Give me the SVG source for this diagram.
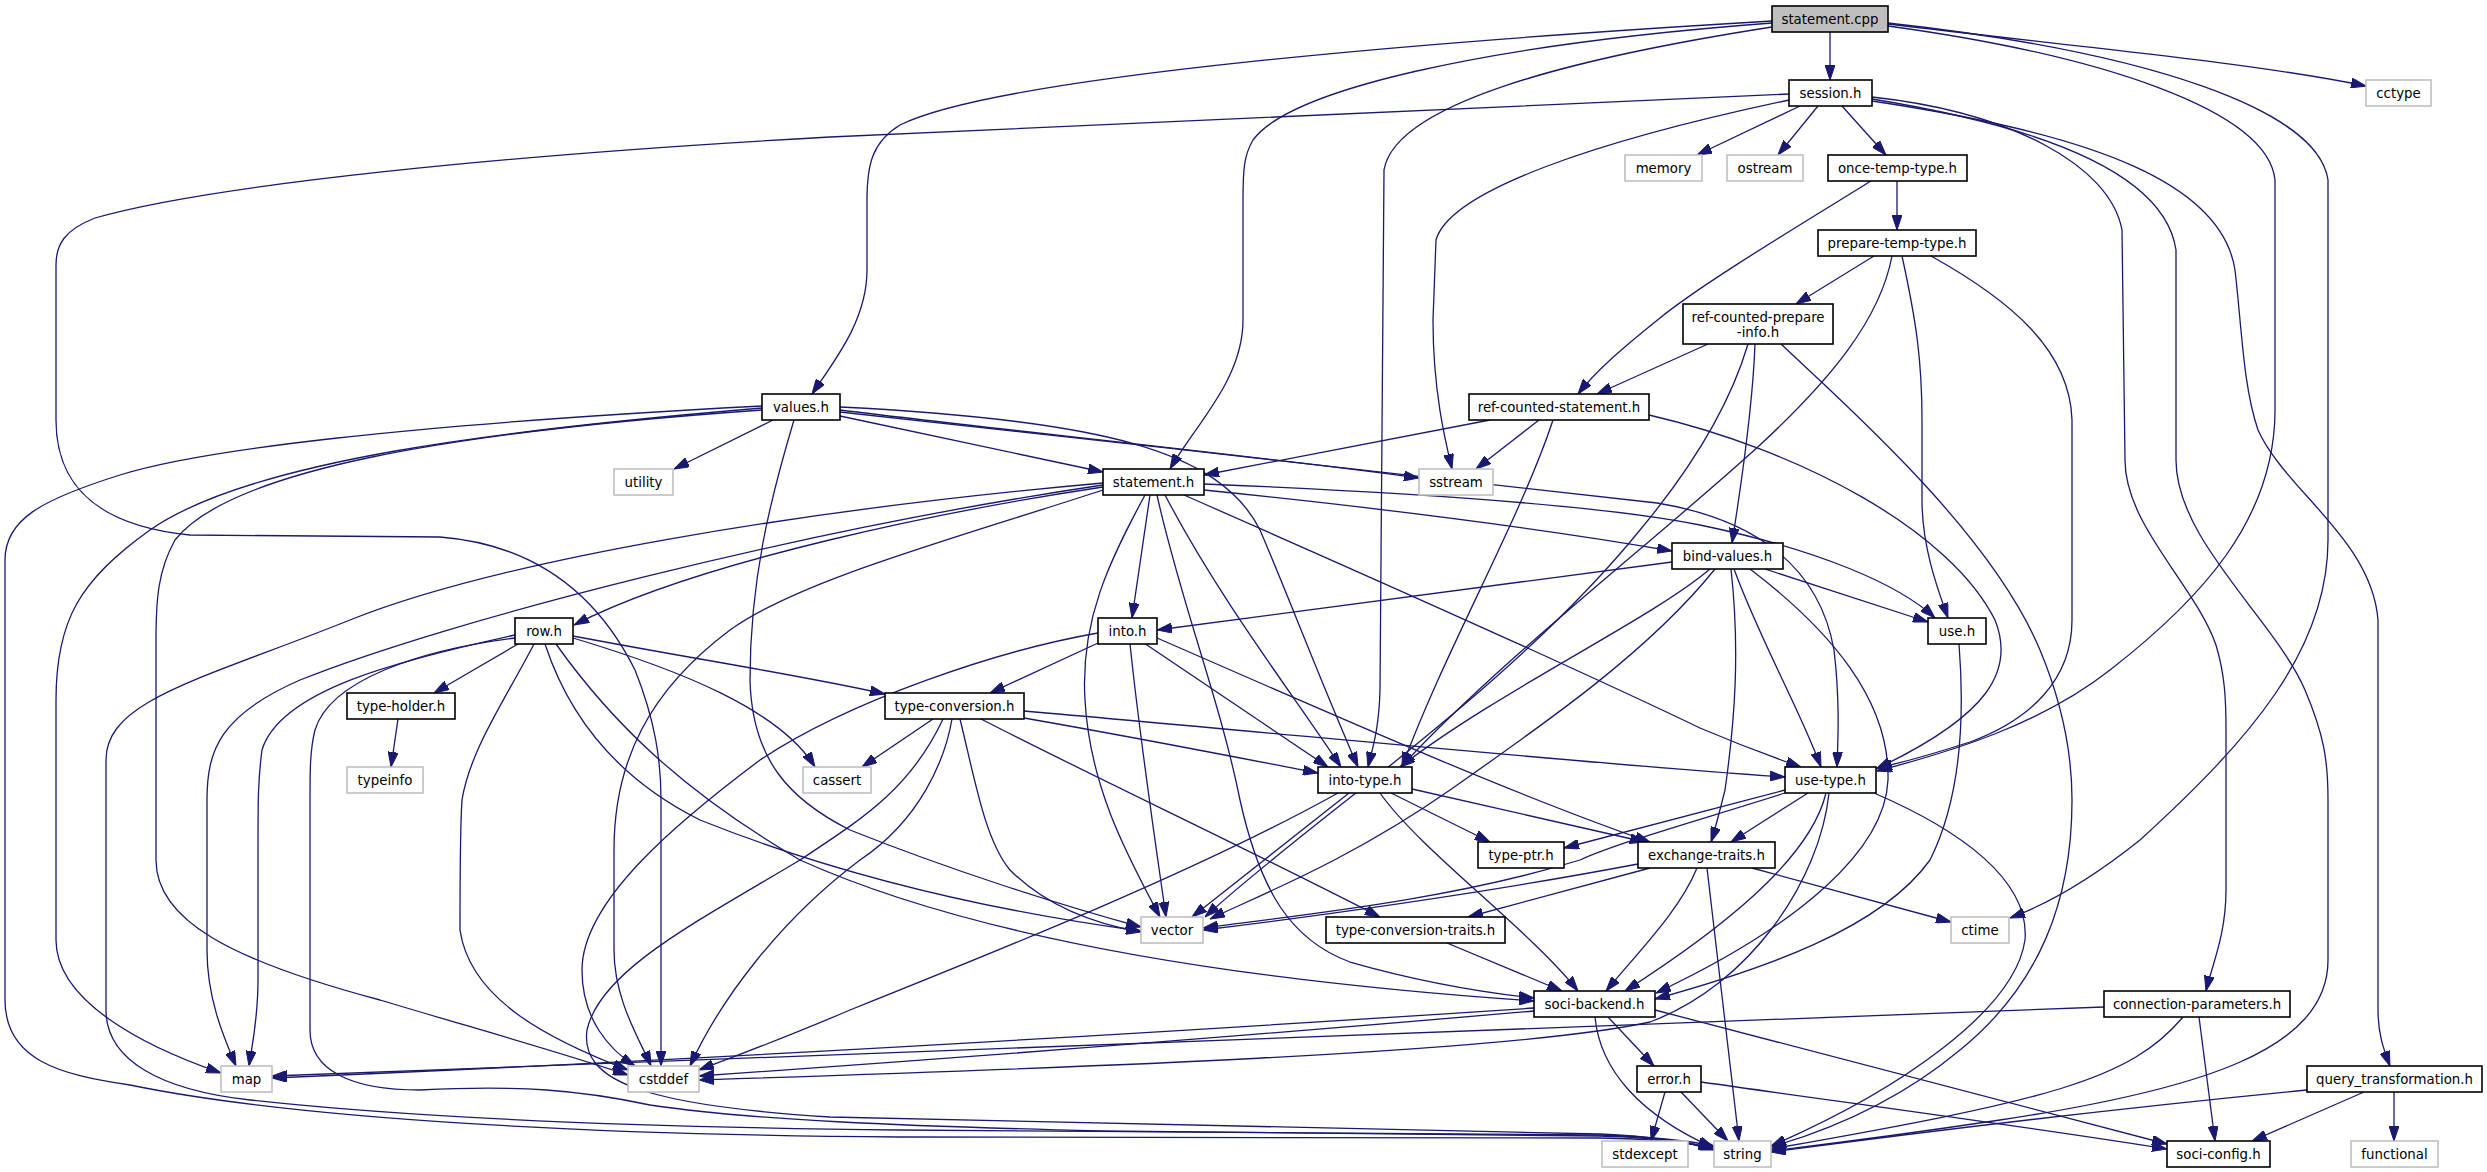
<svg xmlns="http://www.w3.org/2000/svg" width="2487" height="1172" viewBox="0 0 2487 1172">
<style>
.b rect{fill:#fff;stroke:#000;stroke-width:1.6}
.g rect{fill:#fff;stroke:#c0c0c0;stroke-width:1.6}
.r rect{fill:#bfbfbf;stroke:#000;stroke-width:1.6}
text{font-family:'DejaVu Sans','Liberation Sans',sans-serif;font-size:13.33px;fill:#000;text-anchor:middle}
.e path{fill:none;stroke:#191970;stroke-width:1.3;marker-end:url(#a)}
</style>
<defs>
<marker id="a" viewBox="0 0 15 10" refX="15" refY="5" markerWidth="15" markerHeight="10" markerUnits="userSpaceOnUse" orient="auto">
<path d="M0,0 L15,5 L0,10 z" fill="#191970" stroke="#191970" stroke-width="1"/>
</marker>
</defs>
<rect width="2487" height="1172" fill="#fff"/>
<g class="e" id="edges">
<path d="M1830,32 L1830,80"/>
<path d="M1888,24 C2060,45 2250,62 2366,86"/>
<path d="M1772,21 C1450,40 1000,75 900,125 C872,142 867,165 867,200 L867,270 C867,320 835,360 812,394"/>
<path d="M1772,23 C1480,45 1290,90 1253,140 C1244,155 1243,170 1243,200 L1243,320 C1243,380 1195,425 1170,469"/>
<path d="M1772,27 C1560,60 1395,105 1384,170 L1380,690 C1379,730 1372,750 1368,767"/>
<path d="M1888,26 C2100,55 2268,110 2275,180 L2275,410 C2275,520 2200,600 2110,670 C2040,725 1950,752 1877,771"/>
<path d="M1888,23 C2150,52 2318,110 2328,180 L2328,540 C2328,650 2250,740 2140,840 C2090,880 2045,905 2010,918"/>
<path d="M1800,106 L1697,155"/>
<path d="M1818,106 L1778,155"/>
<path d="M1842,106 L1886,155"/>
<path d="M1789,94 L830,137 C500,155 210,185 95,218 C64,230 56,245 56,265 L56,420 C56,480 90,525 190,535 L440,537 C540,545 600,600 635,670 C655,720 661,760 661,800 L661,1066"/>
<path d="M1789,100 C1600,140 1450,190 1436,240 L1433,320 C1433,390 1445,440 1452,469"/>
<path d="M1872,97 C2010,112 2110,165 2122,230 L2125,460 C2125,525 2195,585 2216,645 C2225,675 2226,700 2226,730 L2226,890 C2226,935 2212,965 2206,991"/>
<path d="M1872,99 C2050,128 2165,175 2176,250 L2176,460 C2176,540 2275,620 2305,690 C2324,735 2328,760 2328,800 L2328,960 C2328,1050 2200,1090 2000,1120 C1900,1135 1820,1145 1771,1151"/>
<path d="M1872,101 C2100,135 2222,185 2235,270 C2242,330 2243,385 2258,430 C2285,490 2372,540 2378,620 L2378,1010 C2378,1035 2384,1050 2390,1066"/>
<path d="M1897,181 L1897,230"/>
<path d="M1871,181 C1800,225 1700,285 1660,318 C1620,350 1595,372 1578,394"/>
<path d="M1874,256 L1796,304"/>
<path d="M1892,256 C1880,320 1830,380 1760,445 C1650,545 1500,660 1401,767"/>
<path d="M1902,256 C1916,320 1922,360 1922,420 L1922,500 C1922,550 1940,595 1948,618"/>
<path d="M1931,256 C2010,300 2070,350 2072,420 L2072,620 C2072,680 2030,720 1970,742 C1930,755 1905,762 1877,768"/>
<path d="M1708,344 L1597,394"/>
<path d="M1748,344 C1730,405 1690,470 1640,530 C1510,690 1310,820 1205,917"/>
<path d="M1755,344 C1753,400 1742,480 1732,543"/>
<path d="M1781,344 C1840,400 1990,530 2040,650 C2065,710 2072,760 2072,800 C2072,900 2040,985 1960,1050 C1900,1100 1830,1130 1771,1147"/>
<path d="M1490,420 L1204,475"/>
<path d="M1539,420 L1476,469"/>
<path d="M1553,420 C1520,520 1445,650 1402,767"/>
<path d="M1649,415 C1800,450 1950,530 1995,620 C2015,670 1990,715 1876,769"/>
<path d="M773,420 L674,469"/>
<path d="M794,420 C770,500 750,580 750,680 C752,760 790,800 850,830 C950,870 1060,905 1141,927"/>
<path d="M840,416 L1103,472"/>
<path d="M840,410 C1000,430 1250,455 1419,478"/>
<path d="M840,407 C1100,420 1220,450 1260,530 C1290,600 1320,680 1358,767"/>
<path d="M840,412 C1100,440 1450,480 1657,503 C1760,520 1820,570 1834,650 C1840,700 1838,740 1837,767"/>
<path d="M762,408 C500,430 250,460 150,530 C80,580 56,620 56,700 L56,940 C56,1000 140,1045 221,1073"/>
<path d="M762,406 C400,425 200,450 120,475 C40,500 5,520 5,560 L5,1000 C5,1060 60,1075 130,1085 C300,1120 600,1135 900,1137 L1600,1138 C1660,1139 1690,1143 1714,1148"/>
<path d="M762,410 C450,432 230,470 175,540 C158,570 156,600 156,640 L156,860 C156,920 230,960 380,1000 C480,1030 560,1052 628,1075"/>
<path d="M1204,490 C1400,510 1550,530 1672,551"/>
<path d="M1204,484 C1400,492 1600,505 1700,525 C1820,550 1900,585 1935,618"/>
<path d="M1150,495 L1132,618"/>
<path d="M1145,495 C1110,560 1080,620 1085,700 C1090,790 1130,860 1160,917"/>
<path d="M1157,495 C1180,600 1220,700 1240,800 C1260,890 1290,940 1350,962 C1420,982 1480,992 1534,998"/>
<path d="M1165,495 C1220,600 1290,690 1341,767"/>
<path d="M1184,495 C1400,590 1600,680 1700,728 C1740,745 1775,758 1801,767"/>
<path d="M1103,487 C950,510 700,560 574,625"/>
<path d="M1103,483 C800,510 500,560 350,620 C200,680 106,700 106,760 L106,1010 C106,1060 160,1090 250,1100 C450,1122 700,1128 900,1130 L1600,1135 C1660,1137 1690,1141 1714,1146"/>
<path d="M1103,485 C800,530 450,620 300,680 C220,715 207,750 207,800 L207,950 C207,1000 225,1040 236,1066"/>
<path d="M1103,490 C950,540 800,580 730,630 C650,690 614,760 614,850 L614,950 C614,1000 640,1040 651,1066"/>
<path d="M1672,562 L1157,630"/>
<path d="M1765,569 L1928,622"/>
<path d="M1734,569 C1760,640 1800,710 1821,767"/>
<path d="M1731,569 C1740,650 1735,720 1725,790 C1720,810 1715,830 1711,842"/>
<path d="M1750,569 C1830,630 1890,700 1888,780 C1885,850 1800,925 1656,993"/>
<path d="M1710,569 C1650,620 1500,690 1400,767"/>
<path d="M1715,569 C1650,650 1550,720 1450,790 C1350,860 1260,895 1210,919"/>
<path d="M1098,643 L990,693"/>
<path d="M1144,643 L1328,767"/>
<path d="M1157,638 C1300,700 1500,790 1650,842"/>
<path d="M1130,644 C1140,740 1155,840 1166,917"/>
<path d="M1098,633 C1000,650 850,700 760,760 C680,820 582,900 582,970 C582,1020 610,1050 635,1066"/>
<path d="M1959,644 C1965,720 1960,800 1930,860 C1880,930 1760,970 1655,999"/>
<path d="M518,644 L434,693"/>
<path d="M573,636 C700,660 800,675 885,694"/>
<path d="M573,638 C680,670 780,710 815,767"/>
<path d="M515,635 C400,660 280,690 262,750 C258,780 258,800 258,850 L258,980 C258,1020 252,1045 249,1066"/>
<path d="M515,638 C420,650 330,680 315,730 C310,750 310,770 310,800 L310,1030 C310,1070 350,1090 420,1090 C520,1085 580,1090 650,1105 C750,1120 900,1126 1100,1131 L1600,1136 C1660,1138 1690,1142 1714,1150"/>
<path d="M534,644 C505,700 470,750 462,800 C460,830 460,880 460,930 C470,1000 550,1040 628,1070"/>
<path d="M545,644 C570,720 620,780 700,820 C850,880 1000,912 1141,931"/>
<path d="M556,644 C610,720 680,790 800,860 C1000,950 1300,985 1534,1001"/>
<path d="M398,719 L391,767"/>
<path d="M933,719 L862,767"/>
<path d="M1024,718 C1150,740 1250,760 1318,773"/>
<path d="M1024,711 C1300,735 1600,765 1785,777"/>
<path d="M981,719 C1100,780 1250,850 1380,917"/>
<path d="M960,719 C975,780 985,840 1010,870 C1050,910 1100,925 1141,932"/>
<path d="M952,719 C945,760 920,820 860,860 C780,920 720,1000 690,1066"/>
<path d="M943,719 C910,790 860,820 800,860 C700,920 600,970 587,1030 C580,1080 640,1105 830,1117 L1600,1134 C1660,1137 1690,1142 1714,1149"/>
<path d="M1391,793 L1490,842"/>
<path d="M1412,789 L1645,842"/>
<path d="M1380,793 C1420,850 1530,930 1578,991"/>
<path d="M1349,793 L1192,917"/>
<path d="M1338,793 C1200,870 1000,950 850,1010 C780,1040 730,1058 699,1070"/>
<path d="M1785,790 L1564,848"/>
<path d="M1808,793 L1731,842"/>
<path d="M1785,793 C1700,820 1620,842 1580,860 C1450,900 1300,915 1203,928"/>
<path d="M1826,793 C1810,860 1720,930 1625,991"/>
<path d="M1829,793 C1820,880 1750,985 1650,1022 C1500,1055 1000,1070 699,1080"/>
<path d="M1874,793 C1960,830 2030,880 2025,940 C2015,1010 1900,1090 1771,1146"/>
<path d="M1697,868 C1680,910 1640,950 1606,991"/>
<path d="M1650,868 L1468,917"/>
<path d="M1638,864 C1500,890 1350,912 1203,930"/>
<path d="M1752,868 L1951,922"/>
<path d="M1707,868 L1739,1141"/>
<path d="M1447,943 L1562,991"/>
<path d="M1608,1017 L1654,1066"/>
<path d="M1595,1017 C1600,1070 1640,1115 1714,1148"/>
<path d="M1655,1010 L2167,1144"/>
<path d="M1534,1008 C1200,1030 700,1060 272,1078"/>
<path d="M1534,1011 C1200,1040 900,1062 699,1076"/>
<path d="M2104,1007 C1600,1030 1000,1050 272,1076"/>
<path d="M2183,1017 C2130,1080 2050,1100 1771,1149"/>
<path d="M2199,1017 L2215,1141"/>
<path d="M2307,1090 C2100,1110 1900,1135 1771,1152"/>
<path d="M2364,1092 L2252,1141"/>
<path d="M2394,1092 L2394,1141"/>
<path d="M1665,1092 L1651,1141"/>
<path d="M1681,1092 L1728,1141"/>
<path d="M1701,1082 C1900,1110 2050,1130 2167,1149"/>
</g>
<g id="n_statement_cpp" class="r"><rect x="1772" y="6" width="116" height="26"/><text x="1830" y="24">statement.cpp</text></g>
<g id="n_session_h" class="b"><rect x="1789" y="80" width="83" height="26"/><text x="1830.5" y="98">session.h</text></g>
<g id="n_cctype" class="g"><rect x="2366" y="80" width="65" height="26"/><text x="2398.5" y="98">cctype</text></g>
<g id="n_memory" class="g"><rect x="1625" y="155" width="77" height="26"/><text x="1663.5" y="173">memory</text></g>
<g id="n_ostream" class="g"><rect x="1727" y="155" width="76" height="26"/><text x="1765" y="173">ostream</text></g>
<g id="n_once_temp_type_h" class="b"><rect x="1828" y="155" width="139" height="26"/><text x="1897.5" y="173">once-temp-type.h</text></g>
<g id="n_prepare_temp_type_h" class="b"><rect x="1818" y="230" width="158" height="26"/><text x="1897" y="248">prepare-temp-type.h</text></g>
<g id="n_ref_counted_prepare_info_h" class="b"><rect x="1683" y="304" width="150" height="40"/><text x="1758" y="322">ref-counted-prepare</text><text x="1758" y="337">-info.h</text></g>
<g id="n_ref_counted_statement_h" class="b"><rect x="1469" y="394" width="180" height="26"/><text x="1559" y="412">ref-counted-statement.h</text></g>
<g id="n_values_h" class="b"><rect x="762" y="394" width="78" height="26"/><text x="801" y="412">values.h</text></g>
<g id="n_statement_h" class="b"><rect x="1103" y="469" width="101" height="26"/><text x="1153.5" y="487">statement.h</text></g>
<g id="n_utility" class="g"><rect x="614" y="469" width="59" height="26"/><text x="643.5" y="487">utility</text></g>
<g id="n_sstream" class="g"><rect x="1419" y="469" width="74" height="26"/><text x="1456" y="487">sstream</text></g>
<g id="n_bind_values_h" class="b"><rect x="1672" y="543" width="111" height="26"/><text x="1727.5" y="561">bind-values.h</text></g>
<g id="n_row_h" class="b"><rect x="515" y="618" width="58" height="26"/><text x="544" y="636">row.h</text></g>
<g id="n_into_h" class="b"><rect x="1098" y="618" width="59" height="26"/><text x="1127.5" y="636">into.h</text></g>
<g id="n_use_h" class="b"><rect x="1928" y="618" width="58" height="26"/><text x="1957" y="636">use.h</text></g>
<g id="n_type_holder_h" class="b"><rect x="347" y="693" width="108" height="26"/><text x="401" y="711">type-holder.h</text></g>
<g id="n_type_conversion_h" class="b"><rect x="885" y="693" width="139" height="26"/><text x="954.5" y="711">type-conversion.h</text></g>
<g id="n_typeinfo" class="g"><rect x="347" y="767" width="76" height="26"/><text x="385" y="785">typeinfo</text></g>
<g id="n_cassert" class="g"><rect x="803" y="767" width="68" height="26"/><text x="837" y="785">cassert</text></g>
<g id="n_into_type_h" class="b"><rect x="1318" y="767" width="94" height="26"/><text x="1365" y="785">into-type.h</text></g>
<g id="n_use_type_h" class="b"><rect x="1785" y="767" width="91" height="26"/><text x="1830.5" y="785">use-type.h</text></g>
<g id="n_type_ptr_h" class="b"><rect x="1478" y="842" width="86" height="26"/><text x="1521" y="860">type-ptr.h</text></g>
<g id="n_exchange_traits_h" class="b"><rect x="1638" y="842" width="137" height="26"/><text x="1706.5" y="860">exchange-traits.h</text></g>
<g id="n_vector" class="g"><rect x="1141" y="917" width="62" height="26"/><text x="1172" y="935">vector</text></g>
<g id="n_type_conversion_traits_h" class="b"><rect x="1326" y="917" width="179" height="26"/><text x="1415.5" y="935">type-conversion-traits.h</text></g>
<g id="n_ctime" class="g"><rect x="1951" y="917" width="58" height="26"/><text x="1980" y="935">ctime</text></g>
<g id="n_soci_backend_h" class="b"><rect x="1534" y="991" width="121" height="26"/><text x="1594.5" y="1009">soci-backend.h</text></g>
<g id="n_connection_parameters_h" class="b"><rect x="2104" y="991" width="186" height="26"/><text x="2197" y="1009">connection-parameters.h</text></g>
<g id="n_map" class="g"><rect x="221" y="1066" width="51" height="26"/><text x="246.5" y="1084">map</text></g>
<g id="n_cstddef" class="g"><rect x="628" y="1066" width="71" height="26"/><text x="663.5" y="1084">cstddef</text></g>
<g id="n_error_h" class="b"><rect x="1637" y="1066" width="64" height="26"/><text x="1669" y="1084">error.h</text></g>
<g id="n_query_transformation_h" class="b"><rect x="2307" y="1066" width="175" height="26"/><text x="2394.5" y="1084">query_transformation.h</text></g>
<g id="n_string" class="g"><rect x="1714" y="1141" width="57" height="26"/><text x="1742.5" y="1159">string</text></g>
<g id="n_stdexcept" class="g"><rect x="1602" y="1141" width="86" height="26"/><text x="1645" y="1159">stdexcept</text></g>
<g id="n_soci_config_h" class="b"><rect x="2167" y="1141" width="103" height="26"/><text x="2218.5" y="1159">soci-config.h</text></g>
<g id="n_functional" class="g"><rect x="2351" y="1141" width="87" height="26"/><text x="2394.5" y="1159">functional</text></g>
</svg>
